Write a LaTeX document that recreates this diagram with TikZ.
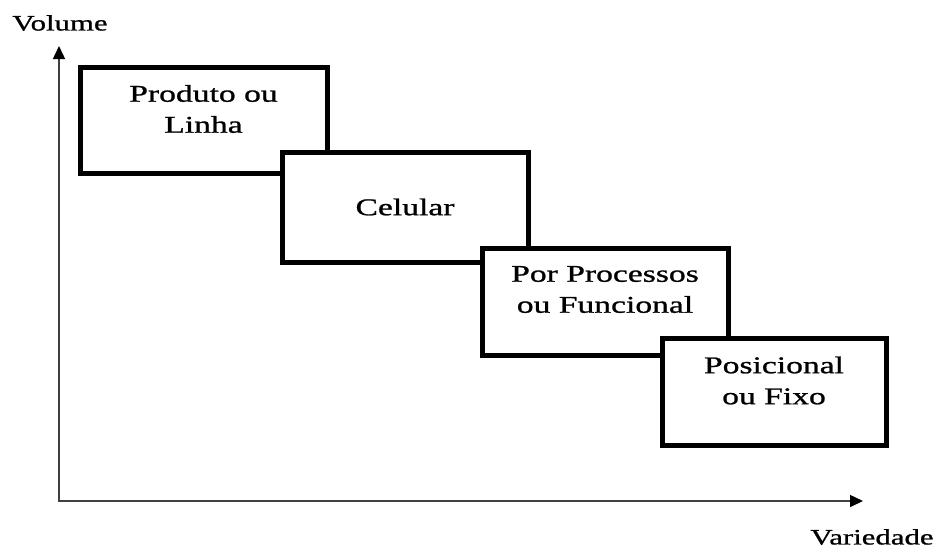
\documentclass[tikz,border=0pt]{standalone}
\usepackage{fontspec}
\setmainfont{Liberation Serif}[FakeStretch=1.4,FakeBold=1]
\usetikzlibrary{arrows.meta}
\begin{document}
\begin{tikzpicture}[x=1pt,y=-1pt,
        box/.style={draw,line width=5pt,fill=white,minimum width=#1,minimum height=107pt,inner sep=0pt},
        boxtext/.style={align=center,font=\fontsize{24}{31}\selectfont},
        axislabel/.style={font=\fontsize{22}{26}\selectfont},
        axis/.style={line width=1.5pt,black!75,line cap=rect,-{Triangle[length=13pt,width=12pt,black]}}]
        \useasboundingbox (0,0) rectangle (937,550);
        \coordinate (o) at (59,501);
        \coordinate (ytop) at (59,46);
        \coordinate (xend) at (863,501);
        \draw[axis] (o) -- (ytop);
        \draw[axis] (o) -- (xend);
        \node[axislabel] (vol) at (60,23) {Volume};
        \node[axislabel] (var) at (872,537) {Variedade};
        \node[box=247pt,minimum height=106pt] (b1) at (203.5,120) {};
        \node[boxtext] (t1) at ([yshift=11pt]b1.center) {Produto ou\\Linha};
        \node[box=246pt,minimum height=110pt] (b2) at (405,207) {};
        \node[boxtext] (t2) at (b2.center) {Celular};
        \node[box=246pt] (b3) at (605,301.5) {};
        \node[boxtext] (t3) at ([yshift=12pt]b3.center) {Por Processos\\ou Funcional};
        \node[box=224pt] (b4) at (774,391.5) {};
        \node[boxtext] (t4) at ([yshift=11pt]b4.center) {Posicional\\ou Fixo};
    \end{tikzpicture}
\end{document}
